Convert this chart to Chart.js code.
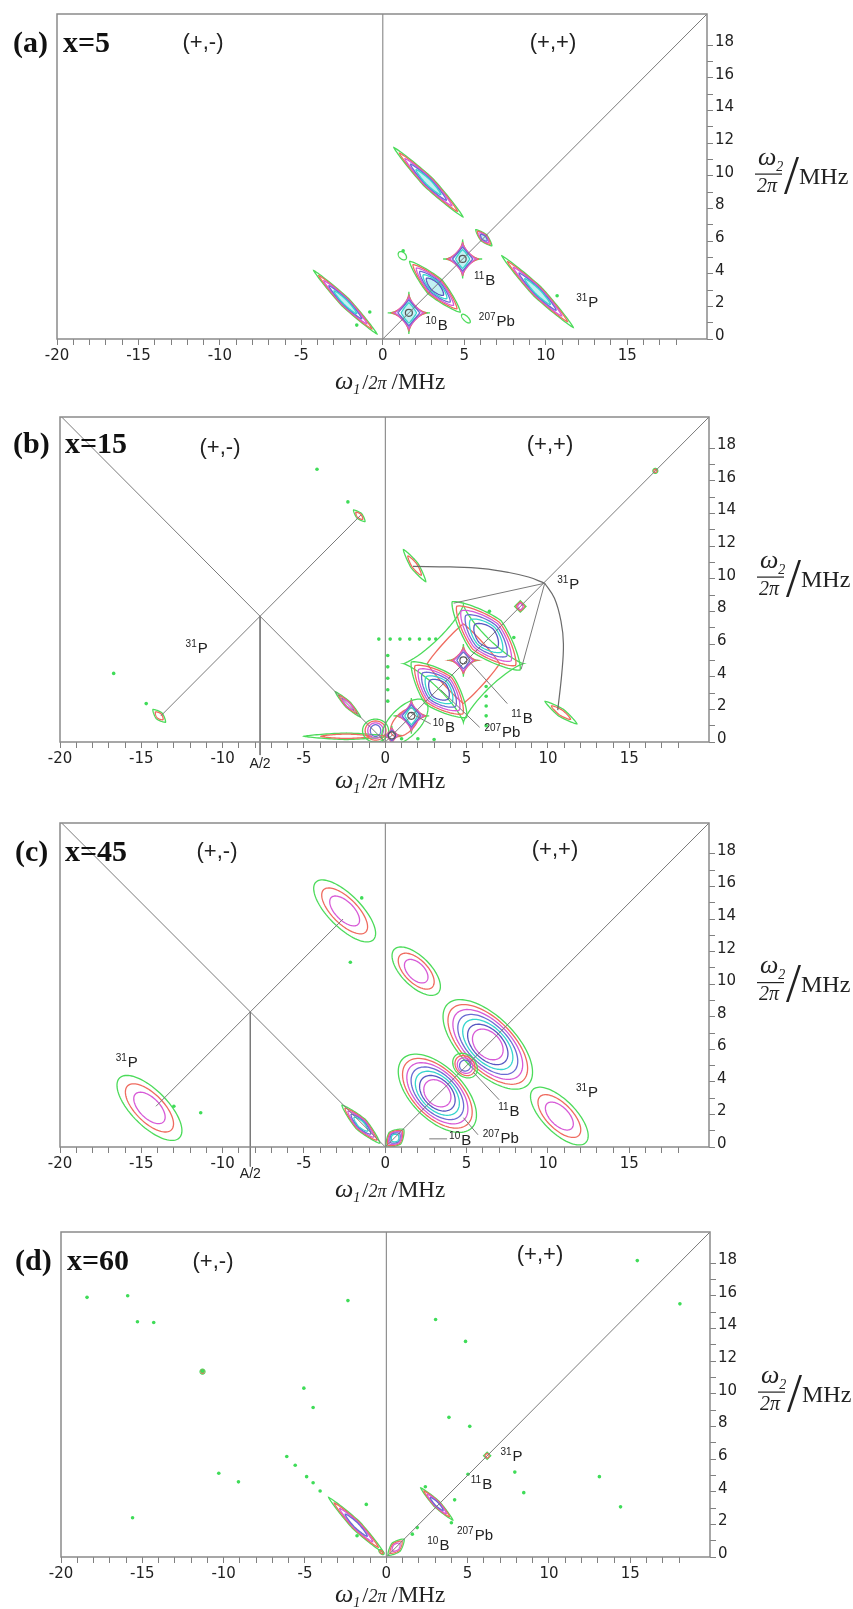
<!DOCTYPE html>
<html>
<head>
<meta charset="utf-8">
<title>HYSCORE spectra</title>
<script src="https://cdn.jsdelivr.net/npm/chart.js@4.4.1/dist/chart.umd.min.js"></script>
<style>
  body { margin: 0; background: #fff; }
  #page { position: relative; width: 853px; height: 1609px; overflow: hidden; background: #fff; }
  #page canvas { position: absolute; left: 0; }
</style>
</head>
<body>
<div id="page">
  <canvas id="chartA" width="853" height="400" style="top:0px"></canvas>
  <canvas id="chartB" width="853" height="405" style="top:400px"></canvas>
  <canvas id="chartC" width="853" height="410" style="top:805px"></canvas>
  <canvas id="chartD" width="853" height="394" style="top:1215px"></canvas>
</div>
<script>
// axis ticks
const xTickLabels = [-20, -15, -10, -5, 0, 5, 10, 15];
const yTickLabels = [0, 2, 4, 6, 8, 10, 12, 14, 16, 18];
const panelTags = ["(a)", "(b)", "(c)", "(d)"];
const panelDoses = ["x=5", "x=15", "x=45", "x=60"];
const quadrantNames = ["(+,-)", "(+,+)"];

// peaks: [centre w1, centre w2, half length, half width, ridge angle (deg), shape, contour levels]
const peaksA = [
  [-2.3, 2.25, 2.75, 0.3, -45, "ridge", 5],
  [2.8, 9.6, 3.0, 0.35, -45, "ridge", 5],
  [3.2, 3.2, 2.2, 0.6, -45, "ridge", 6],
  [1.6, 1.6, 1.3, 1.3, 0, "star", 5],
  [4.9, 4.9, 1.2, 1.2, 0, "star", 5],
  [6.2, 6.2, 0.7, 0.25, -45, "ridge", 4],
  [9.5, 2.9, 3.1, 0.35, -45, "ridge", 5],
  [5.1, 1.25, 0.35, 0.15, -45, "blob", 1],
  [1.2, 5.1, 0.3, 0.2, -45, "blob", 1],
];
const peaksB = [
  [-13.9, 1.6, 0.55, 0.25, -45, "ridge", 2],
  [-1.6, 13.85, 0.5, 0.2, -45, "ridge", 2],
  [-2.3, 2.3, 1.1, 0.2, -45, "ridge", 3],
  [-2.4, 0.35, 2.6, 0.2, 0, "ridge", 2],
  [-0.6, 0.7, 0.8, 0.7, 0, "blob", 4],
  [4.8, 4.8, 3.7, 3.6, 0, "cluster", 2],
  [1.2, 1.2, 1.8, 0.9, 45, "blob", 2],
  [3.3, 3.2, 2.4, 1.2, -45, "ridge", 6],
  [6.2, 6.5, 2.95, 1.3, -45, "ridge", 6],
  [4.8, 5.0, 1.0, 1.0, 0, "star", 4],
  [1.6, 1.6, 1.1, 1.1, 0, "star", 5],
  [0.4, 0.4, 0.6, 0.6, 0, "star", 4],
  [8.3, 8.3, 0.35, 0.35, 0, "diamond", 3],
  [16.6, 16.6, 0.15, 0.15, 0, "blob", 2],
  [1.8, 10.8, 1.2, 0.25, -55, "ridge", 2],
  [10.8, 1.8, 1.2, 0.25, -35, "ridge", 2],
];
const peaksC = [
  [-14.5, 2.4, 2.6, 1.1, -45, "blob", 3],
  [-2.5, 14.5, 2.5, 1.0, -45, "blob", 3],
  [-1.5, 1.4, 1.65, 0.4, -45, "ridge", 5],
  [0.6, 0.55, 0.75, 0.5, 45, "ridge", 5],
  [1.9, 10.8, 1.9, 0.9, -45, "blob", 3],
  [6.3, 6.3, 3.5, 1.7, -45, "blob", 7],
  [3.2, 3.3, 3.0, 1.6, -45, "blob", 7],
  [4.9, 5.0, 0.85, 0.65, -45, "blob", 4],
  [10.7, 1.9, 2.3, 1.0, -45, "blob", 3],
];
const peaksD = [
  [-1.85, 1.95, 2.4, 0.3, -45, "ridge", 4],
  [3.1, 3.25, 1.4, 0.22, -45, "ridge", 4],
  [0.6, 0.6, 0.7, 0.35, 45, "ridge", 3],
  [6.2, 6.2, 0.22, 0.22, 0, "diamond", 2],
  [-0.3, 0.3, 0.2, 0.1, -45, "blob", 2],
  [-11.3, 11.35, 0.15, 0.15, 0, "blob", 2],
];

// nucleus labels: [superscript, symbol, w1, w2]
const labelsA = [["10", "B", 3.3, 0.85], ["207", "Pb", 7.0, 1.1], ["11", "B", 6.25, 3.6], ["31", "P", 12.55, 2.25]];
const labelsB = [["31", "P", -11.6, 5.75], ["31", "P", 11.25, 9.7], ["11", "B", 8.4, 1.5], ["207", "Pb", 7.2, 0.6], ["10", "B", 3.6, 0.9], ["", "A/2", -7.7, -1.3]];
const labelsC = [["31", "P", -15.9, 5.25], ["31", "P", 12.4, 3.4], ["11", "B", 7.6, 2.2], ["207", "Pb", 7.1, 0.55], ["10", "B", 4.6, 0.45], ["", "A/2", -8.3, -1.6]];
const labelsD = [["31", "P", 7.7, 6.2], ["11", "B", 5.85, 4.45], ["207", "Pb", 5.45, 1.35], ["10", "B", 3.2, 0.75]];

// straight guide lines and label pointers
const guideLinesA = [
  [[0, 0], [19.9, 19.9]],
  [[0, 0], [0, 19.9]],
];
const guideLinesB = [
  [[0, 0], [19.9, 19.9]],
  [[0, 0], [0, 19.9]],
  [[-19.9, 19.9], [0, 0]],
  [[-13.8, 1.6], [-1.5, 13.9]],
  [[-7.7, 7.7], [-7.7, -0.8]],
  [[9.8, 9.72], [4.2, 8.5]],
  [[9.8, 9.72], [8.35, 4.45]],
  [[7.5, 2.35], [5.1, 5.0]],
  [[5.8, 0.9], [3.4, 3.2]],
  [[2.8, 1.1], [1.6, 1.75]],
];
const guideLinesC = [
  [[0, 0], [19.9, 19.9]],
  [[0, 0], [0, 19.9]],
  [[-19.9, 19.9], [0, 0]],
  [[-14.1, 2.5], [-2.6, 14.0]],
  [[-8.3, 8.3], [-8.3, -1.2]],
  [[7.0, 2.9], [5.4, 4.6]],
  [[5.7, 0.75], [4.8, 1.8]],
  [[2.7, 0.5], [3.8, 0.5]],
];
const guideLinesD = [
  [[0, 0], [19.9, 19.9]],
  [[0, 0], [0, 19.9]],
];
// curved 31P guides in (b)
const arcsB = [
  [[1.7, 10.75], [4.0, 10.72], [6.0, 10.62], [7.6, 10.38], [8.8, 10.1], [9.8, 9.72]],
  [[9.8, 9.72], [10.4, 8.8], [10.8, 7.4], [10.95, 6.0], [10.85, 4.2], [10.6, 1.95]],
];

// isolated noise spots
const dotsA = [[-0.8, 1.65], [-1.6, 0.85], [10.7, 2.65], [1.25, 5.4]];
const dotsB = [
  [-4.2, 16.7], [-2.3, 14.7], [-16.7, 4.2], [-14.7, 2.35],
  [-0.4, 6.3], [0.3, 6.3], [0.9, 6.3], [1.5, 6.3], [2.1, 6.3], [2.7, 6.3], [3.1, 6.3],
  [0.15, 5.3], [0.15, 4.6], [0.15, 3.9], [0.15, 3.2], [0.15, 2.5],
  [6.2, 3.4], [6.2, 2.8], [6.2, 2.2], [6.2, 1.6], [6.2, 1.0],
  [6.4, 8.0], [7.9, 6.4], [1.0, 0.2], [2.0, 0.2], [3.0, 0.15],
];
const dotsC = [[-1.45, 15.3], [-2.15, 11.35], [-11.35, 2.1], [-13.0, 2.5]];
const dotsD = [
  [-18.4, 15.9], [-15.9, 16.0], [-14.3, 14.36], [-15.3, 14.4], [-11.3, 11.38],
  [-5.07, 10.34], [-4.5, 9.15], [-6.12, 6.15], [-5.6, 5.62], [-4.9, 4.92],
  [-4.5, 4.55], [-4.07, 4.04], [-10.3, 5.13], [-9.09, 4.6], [-2.36, 15.7],
  [-15.6, 2.4], [-1.23, 3.22], [-1.8, 1.3],
  [15.43, 18.15], [18.05, 15.5], [3.03, 14.54], [4.87, 13.2], [3.85, 8.55],
  [5.13, 8.0], [7.9, 5.2], [8.45, 3.94], [13.1, 4.92], [14.4, 3.07], [5.02, 5.07],
  [1.6, 1.4], [2.4, 4.3], [4.2, 3.5], [4.0, 2.1], [1.9, 1.8],
];

const panels = [
  { id: "chartA", h: 400, left: 57, right: 707, top: 14, bottom: 339, titleY: 389, tagX: 13, doseX: 63, tagY: 44,
    quadX: [203, 553], quadY: [43, 43], peaks: peaksA, labels: labelsA, lines: guideLinesA, arcs: [], dots: dotsA, fill: "#c2f1f3" },
  { id: "chartB", h: 405, left: 60, right: 709, top: 17, bottom: 342, titleY: 388, tagX: 13, doseX: 65, tagY: 45,
    quadX: [220, 550], quadY: [48, 45], peaks: peaksB, labels: labelsB, lines: guideLinesB, arcs: arcsB, dots: dotsB, fill: null },
  { id: "chartC", h: 410, left: 60, right: 709, top: 18, bottom: 342, titleY: 392, tagX: 15, doseX: 65, tagY: 48,
    quadX: [217, 555], quadY: [47, 45], peaks: peaksC, labels: labelsC, lines: guideLinesC, arcs: [], dots: dotsC, fill: null },
  { id: "chartD", h: 394, left: 61, right: 710, top: 17, bottom: 342, titleY: 387, tagX: 15, doseX: 67, tagY: 47,
    quadX: [213, 540], quadY: [47, 40], peaks: peaksD, labels: labelsD, lines: guideLinesD, arcs: [], dots: dotsD, fill: null },
];

const SHAPE_EXP = { ridge: 1.3, blob: 2, star: 0.55, diamond: 1, cluster: 0.8 };
const LEVEL_COLOURS = ["#4cdb5a", "#ef6b5f", "#d75ad7", "#6b6bd3", "#36d5ce", "#5757c2", "#d75ad7"];
const SERIF = '"Liberation Serif", "Times New Roman", serif';
const SANS = '"Liberation Sans", Arial, sans-serif';

function panelOf(chart) {
  const idx = panels.findIndex((p) => p.id === chart.canvas.id);
  return { info: panels[idx], idx };
}

function drawPeak(chart, peak, innerFill) {
  const [cx, cy, a, b, angle, shape, levels] = peak;
  const ctx = chart.ctx;
  const sx = chart.scales.x, sy = chart.scales.y;
  const th = (angle * Math.PI) / 180;
  const ct = Math.cos(th), st = Math.sin(th);
  const p0 = SHAPE_EXP[shape];
  for (let k = 0; k < levels; k++) {
    const f = k / levels;
    const sa = 1 - 0.8 * f, sb = 1 - 0.65 * f;
    const p = p0 + (2 - p0) * 0.5 * f;
    ctx.beginPath();
    for (let i = 0; i <= 96; i++) {
      const t = (i / 96) * Math.PI * 2;
      const c = Math.cos(t), s = Math.sin(t);
      const u = a * sa * Math.sign(c) * Math.pow(Math.abs(c), 2 / p);
      const w = b * sb * Math.sign(s) * Math.pow(Math.abs(s), 2 / p);
      const px = sx.getPixelForValue(cx + u * ct - w * st);
      const py = sy.getPixelForValue(cy + u * st + w * ct);
      if (i === 0) ctx.moveTo(px, py);
      else ctx.lineTo(px, py);
    }
    ctx.closePath();
    if (innerFill && k === levels - 1 && levels > 2) {
      ctx.fillStyle = innerFill;
      ctx.fill();
    }
    ctx.strokeStyle = LEVEL_COLOURS[k % LEVEL_COLOURS.length];
    ctx.lineWidth = 1.3;
    ctx.stroke();
  }
  if (shape === "star") {
    ctx.beginPath();
    ctx.arc(sx.getPixelForValue(cx), sy.getPixelForValue(cy), 3.5, 0, Math.PI * 2);
    ctx.strokeStyle = "#555";
    ctx.lineWidth = 1.2;
    ctx.stroke();
  }
}

function drawNucleus(chart, lab) {
  const ctx = chart.ctx;
  const [sup, sym, x, y] = lab;
  const px = chart.scales.x.getPixelForValue(x);
  const py = chart.scales.y.getPixelForValue(y);
  const mainFont = sup ? "15px " + SANS : "14px " + SANS;
  ctx.font = "10px " + SANS;
  const ws = sup ? ctx.measureText(sup).width + 1 : 0;
  ctx.font = mainFont;
  const wm = ctx.measureText(sym).width;
  const x0 = px - (ws + wm) / 2;
  ctx.fillStyle = "#222";
  ctx.textAlign = "left";
  ctx.textBaseline = "alphabetic";
  if (sup) {
    ctx.font = "10px " + SANS;
    ctx.fillText(sup, x0, py - 1);
  }
  ctx.font = mainFont;
  ctx.fillText(sym, x0 + ws, py + 5);
}

function drawXTitle(ctx, x, y) {
  let cx = x;
  const part = (txt, font, dy) => {
    ctx.font = font;
    ctx.fillText(txt, cx, y + dy);
    cx += ctx.measureText(txt).width;
  };
  ctx.fillStyle = "#222";
  ctx.textAlign = "left";
  ctx.textBaseline = "alphabetic";
  part("ω", "italic 26px " + SERIF, 0);
  part("1", "italic 14px " + SERIF, 5);
  cx += 2;
  part("/", "22px " + SERIF, 0);
  part("2π", "italic 18px " + SERIF, 0);
  cx += 5;
  part("/MHz", "23px " + SERIF, 0);
}

function drawYTitle(ctx, x, yBar) {
  ctx.fillStyle = "#222";
  ctx.textAlign = "left";
  ctx.textBaseline = "alphabetic";
  ctx.font = "italic 26px " + SERIF;
  ctx.fillText("ω", x + 3, yBar - 9);
  const wo = ctx.measureText("ω").width;
  ctx.font = "italic 14px " + SERIF;
  ctx.fillText("2", x + 3 + wo, yBar - 3);
  ctx.fillRect(x, yBar, 27, 1.2);
  ctx.font = "italic 20px " + SERIF;
  ctx.fillText("2π", x + 2, yBar + 18);
  ctx.font = "54px " + SERIF;
  ctx.fillText("/", x + 29, yBar + 19);
  ctx.font = "24px " + SERIF;
  ctx.fillText("MHz", x + 44, yBar + 10);
}

const hyscorePlugin = {
  id: "hyscore",
  beforeDatasetsDraw(chart) {
    const { info } = panelOf(chart);
    const area = chart.chartArea;
    const ctx = chart.ctx;
    ctx.save();
    ctx.beginPath();
    ctx.rect(area.left, area.top, area.right - area.left, area.bottom - area.top);
    ctx.clip();
    info.peaks.forEach((pk) => drawPeak(chart, pk, info.fill));
    ctx.restore();
  },
  afterDraw(chart) {
    const { info, idx } = panelOf(chart);
    const area = chart.chartArea;
    const ctx = chart.ctx;
    ctx.save();
    // frame
    ctx.strokeStyle = "#8a8a8a";
    ctx.lineWidth = 1.5;
    ctx.strokeRect(area.left, area.top, area.right - area.left, area.bottom - area.top);
    // nucleus labels
    info.labels.forEach((lab) => drawNucleus(chart, lab));
    // panel tag and dose
    ctx.fillStyle = "#111";
    ctx.textBaseline = "middle";
    ctx.textAlign = "left";
    ctx.font = "bold 30px " + SERIF;
    ctx.fillText(panelTags[idx], info.tagX, info.tagY);
    ctx.fillText(panelDoses[idx], info.doseX, info.tagY);
    // quadrant names
    ctx.font = "22px " + SANS;
    ctx.textAlign = "center";
    ctx.fillStyle = "#222";
    ctx.fillText(quadrantNames[0], info.quadX[0], info.quadY[0]);
    ctx.fillText(quadrantNames[1], info.quadX[1], info.quadY[1]);
    // axis titles
    drawXTitle(ctx, 335, info.titleY);
    drawYTitle(ctx, area.right + 48, (area.top + area.bottom) / 2 - 3);
    ctx.restore();
  },
};

function buildDatasets(info) {
  const sets = [];
  info.lines.forEach((seg) => {
    sets.push({
      data: seg.map(([x, y]) => ({ x, y })),
      showLine: true,
      borderColor: "#7a7a7a",
      borderWidth: 1,
      pointRadius: 0,
      clip: false,
    });
  });
  info.arcs.forEach((arc) => {
    sets.push({
      data: arc.map(([x, y]) => ({ x, y })),
      showLine: true,
      tension: 0.4,
      borderColor: "#6a6a6a",
      borderWidth: 1.2,
      pointRadius: 0,
    });
  });
  sets.push({
    data: info.dots.map(([x, y]) => ({ x, y })),
    showLine: false,
    pointRadius: 1.8,
    pointBorderWidth: 0,
    backgroundColor: "#3fdc58",
    borderColor: "#3fdc58",
  });
  return sets;
}

panels.forEach((info) => {
  const el = document.getElementById(info.id);
  new Chart(el, {
    type: "scatter",
    data: { datasets: buildDatasets(info) },
    options: {
      responsive: false,
      animation: false,
      devicePixelRatio: 1,
      layout: { padding: { left: info.left, top: info.top, right: 0, bottom: 0 } },
      plugins: { legend: { display: false }, tooltip: { enabled: false } },
      scales: {
        x: {
          type: "linear",
          position: "bottom",
          min: -20,
          max: 19.9,
          afterBuildTicks: (s) => { s.ticks = s.ticks.filter((t) => Number.isInteger(t.value)); },
          afterFit: (s) => { s.height = info.h - info.bottom; },
          border: { display: false },
          grid: { drawOnChartArea: false, drawTicks: true, tickLength: 6, tickColor: "#808080", tickWidth: 1 },
          ticks: {
            stepSize: 1,
            autoSkip: false,
            maxRotation: 0,
            padding: 2,
            color: "#222",
            font: { family: "DejaVu Sans", size: 15 },
            callback: (v) => (xTickLabels.includes(v) ? String(v) : ""),
          },
        },
        y: {
          type: "linear",
          position: "right",
          min: 0,
          max: 19.9,
          afterBuildTicks: (s) => { s.ticks = s.ticks.filter((t) => Number.isInteger(t.value)); },
          afterFit: (s) => { s.width = 853 - info.right; },
          border: { display: false },
          grid: { drawOnChartArea: false, drawTicks: true, tickLength: 6, tickColor: "#808080", tickWidth: 1 },
          ticks: {
            stepSize: 1,
            autoSkip: false,
            padding: 2,
            labelOffset: -3,
            color: "#222",
            font: { family: "DejaVu Sans", size: 15 },
            callback: (v) => (yTickLabels.includes(v) ? String(v) : ""),
          },
        },
      },
    },
    plugins: [hyscorePlugin],
  });
});
</script>
</body>
</html>
